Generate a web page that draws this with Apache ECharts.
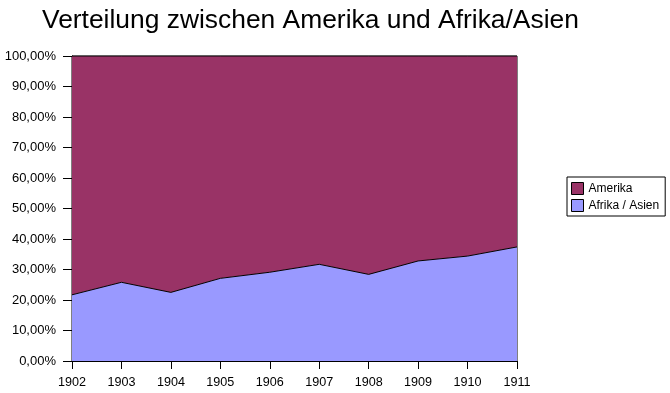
<!DOCTYPE html>
<html><head><meta charset="utf-8">
<script src="https://cdn.jsdelivr.net/npm/echarts@6/dist/echarts.min.js"></script>
<style>html,body{margin:0;padding:0;background:#fff}#c{width:670px;height:393px}</style>
</head><body><div id="c"></div>
<script>
var years = ['1902','1903','1904','1905','1906','1907','1908','1909','1910','1911'];
var afrikaAsien = [21.7, 25.8, 22.5, 27.1, 29.1, 31.7, 28.4, 32.8, 34.4, 37.4];
var amerika = [78.3, 74.2, 77.5, 72.9, 70.9, 68.3, 71.6, 67.2, 65.6, 62.6];

var chart = echarts.init(document.getElementById('c'));
var font = 'Liberation Sans, Arial, sans-serif';
chart.setOption({
  animation: false,
  backgroundColor: '#fff',
  title: {
    text: 'Verteilung zwischen Amerika und Afrika/Asien',
    left: 37, top: 3,
    textStyle: {fontFamily: font, fontSize: 26.4, fontWeight: 'normal', color: '#000'}
  },
  legend: {
    data: ['Amerika', 'Afrika / Asien'],
    orient: 'vertical',
    left: 567, top: 177,
    icon: 'rect',
    itemWidth: 12, itemHeight: 12, itemGap: 4,
    padding: [5, 6, 4, 4],
    borderColor: '#000', borderWidth: 1,
    textStyle: {fontFamily: font, fontSize: 12, color: '#000'},
    itemStyle: {borderColor: '#000', borderWidth: 1}
  },
  grid: {left: 72, right: 153, top: 56, bottom: 32, show: true, borderColor: '#000', borderWidth: 1, backgroundColor: 'transparent'},
  xAxis: {
    type: 'category', data: years, boundaryGap: false,
    axisLine: {lineStyle: {color: '#000'}},
    axisTick: {alignWithLabel: true, length: 8, lineStyle: {color: '#000'}},
    axisLabel: {fontFamily: font, fontSize: 12.6, color: '#000', margin: 15},
    splitLine: {show: false}
  },
  yAxis: {
    type: 'value', min: 0, max: 100, interval: 10,
    axisLine: {show: true, lineStyle: {color: '#000'}},
    axisTick: {show: true, length: 9, lineStyle: {color: '#000'}},
    axisLabel: {fontFamily: font, fontSize: 13, color: '#000', margin: 16,
      formatter: function (v) { return v.toFixed(2).replace('.', ',') + '%'; }},
    splitLine: {show: false}
  },
  series: [
    {name: 'Afrika / Asien', type: 'line', stack: 'a', data: afrikaAsien, symbol: 'none',
     lineStyle: {color: '#000', width: 1}, itemStyle: {color: '#9999FF'},
     areaStyle: {color: '#9999FF', opacity: 1}},
    {name: 'Amerika', type: 'line', stack: 'a', data: amerika, symbol: 'none',
     lineStyle: {color: '#000', width: 1}, itemStyle: {color: '#993366'},
     areaStyle: {color: '#993366', opacity: 1}}
  ]
});
</script></body></html>
